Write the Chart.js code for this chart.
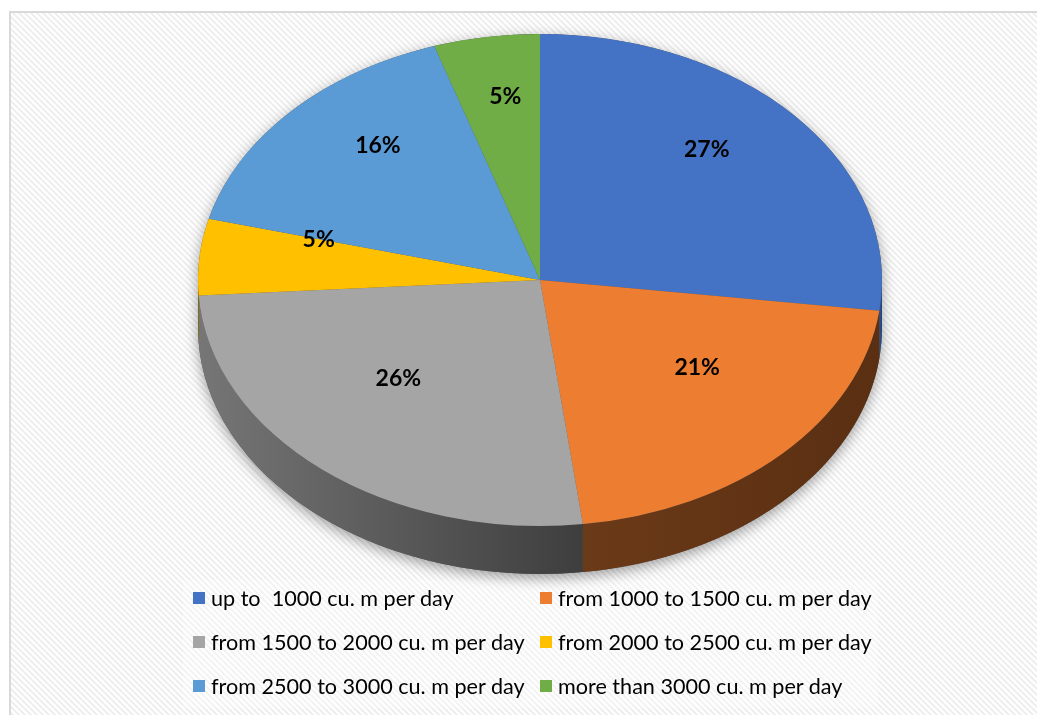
<!DOCTYPE html>
<html>
<head>
<meta charset="utf-8">
<script src="https://cdn.jsdelivr.net/npm/chart.js@4.4.1/dist/chart.umd.min.js"></script>
<style>
    body { margin: 0; background: #fff; }
    #wrap { position: relative; width: 1037px; height: 715px; overflow: hidden; }
    #pieChart { position: absolute; left: 0; top: 0; }
    #legend {
        position: absolute; left: 193px; top: 576px;
        display: grid; grid-template-columns: 347px 340px;
        font-family: Lato, 'Open Sans', sans-serif; font-size: 21.6px; color: #000;
    }
    #legend .item { height: 44px; display: flex; align-items: center; white-space: pre; }
    #legend .box { width: 12px; height: 12px; margin-right: 6px; flex: none; }
</style>
</head>
<body>
<div id="wrap">
    <canvas id="pieChart" width="1037" height="715"></canvas>
    <div id="legend"></div>
</div>
<script>
// data
const categories = [
    'up to  1000 cu. m per day',
    'from 1000 to 1500 cu. m per day',
    'from 1500 to 2000 cu. m per day',
    'from 2000 to 2500 cu. m per day',
    'from 2500 to 3000 cu. m per day',
    'more than 3000 cu. m per day'
];
const shares = [27, 21, 26, 5, 16, 5];

// styles
const topColors = ['#4472C4', '#ED7D31', '#A5A5A5', '#FFC000', '#5B9BD5', '#70AD47'];
const sideLight = ['#2f5597', '#6b3a18', '#767676', '#a67c00', '#3d6f9e', '#4d7a31'];
const sideDark = ['#24427a', '#5a2f12', '#3e3e3e', '#8a6700', '#2f5a82', '#3f6528'];

// geometry of the tilted pie
const CX = 540, CY = 280, RX = 342, RY = 246, DEPTH = 48;

function makeStripes() {
    const p = document.createElement('canvas');
    p.width = 6; p.height = 6;
    const pc = p.getContext('2d');
    pc.fillStyle = '#ffffff';
    pc.fillRect(0, 0, 6, 6);
    pc.strokeStyle = '#eeeeee';
    pc.lineWidth = 2;
    pc.beginPath();
    for (let k = -2; k <= 2; k++) {
        pc.moveTo(k * 6 - 6, -6);
        pc.lineTo(k * 6 + 12, 12);
    }
    pc.stroke();
    return p;
}

const backgroundPlugin = {
    id: 'backgroundPlugin',
    beforeDraw(chart) {
        const ctx = chart.ctx;
        ctx.save();
        ctx.fillStyle = '#ffffff';
        ctx.fillRect(0, 0, chart.width, chart.height);
        ctx.fillStyle = ctx.createPattern(makeStripes(), 'repeat');
        ctx.fillRect(10, 12, chart.width - 10, chart.height - 12);
        // slightly lighter box behind the legend
        ctx.fillStyle = 'rgba(255,255,255,0.3)';
        ctx.fillRect(183, 580, 695, 128);
        ctx.strokeStyle = '#d9d9d9';
        ctx.lineWidth = 2;
        ctx.strokeRect(10, 12, chart.width + 10, chart.height + 10);
        ctx.restore();
    }
};

const pie3dPlugin = {
    id: 'pie3dPlugin',
    beforeDatasetsDraw(chart) {
        const ctx = chart.ctx;
        const arcs = chart.getDatasetMeta(0).data;

        // soft shadow under the whole body
        ctx.save();
        ctx.shadowColor = 'rgba(0,0,0,0.38)';
        ctx.shadowBlur = 14;
        ctx.shadowOffsetY = 4;
        ctx.fillStyle = '#555';
        ctx.beginPath();
        ctx.ellipse(CX, CY, RX, RY, 0, 0, Math.PI * 2);
        ctx.ellipse(CX, CY + DEPTH, RX, RY, 0, 0, Math.PI * 2);
        ctx.rect(CX - RX, CY, RX * 2, DEPTH);
        ctx.fill();
        ctx.restore();

        // front walls
        arcs.forEach((arc, i) => {
            const a = Math.max(arc.startAngle, 0);
            const b = Math.min(arc.endAngle, Math.PI);
            if (a >= b) return;
            const x0 = CX + RX * Math.cos(b), x1 = CX + RX * Math.cos(a);
            const grad = ctx.createLinearGradient(Math.min(x0, x1), 0, Math.max(x0, x1), 0);
            grad.addColorStop(0, sideLight[i]);
            grad.addColorStop(1, sideDark[i]);
            ctx.save();
            ctx.fillStyle = grad;
            ctx.beginPath();
            ctx.moveTo(CX + RX * Math.cos(a), CY + RY * Math.sin(a));
            ctx.ellipse(CX, CY, RX, RY, 0, a, b, false);
            ctx.lineTo(CX + RX * Math.cos(b), CY + DEPTH + RY * Math.sin(b));
            ctx.ellipse(CX, CY + DEPTH, RX, RY, 0, b, a, true);
            ctx.closePath();
            ctx.fill();
            ctx.restore();
        });

        // squash the flat pie into the top face
        const first = arcs[0];
        const r = first.outerRadius;
        ctx.save();
        ctx.translate(CX, CY);
        ctx.scale(RX / r, RY / r);
        ctx.translate(-first.x, -first.y);
    },
    afterDatasetsDraw(chart) {
        const ctx = chart.ctx;
        ctx.restore();

        const arcs = chart.getDatasetMeta(0).data;
        const total = shares.reduce((s, v) => s + v, 0);
        ctx.save();
        ctx.font = 'bold 23px Lato, sans-serif';
        ctx.fillStyle = '#000';
        ctx.textAlign = 'center';
        ctx.textBaseline = 'middle';
        arcs.forEach((arc, i) => {
            const mid = (arc.startAngle + arc.endAngle) / 2;
            const x = CX + RX * 0.65 * Math.cos(mid);
            const y = CY + RY * 0.65 * Math.sin(mid) - 25;
            ctx.fillText(Math.round(shares[i] / total * 100) + '%', x, y);
        });
        ctx.restore();
    }
};

const ctx = document.getElementById('pieChart').getContext('2d');
new Chart(ctx, {
    type: 'pie',
    data: {
        labels: categories,
        datasets: [{
            data: shares,
            backgroundColor: topColors,
            borderWidth: 0,
            clip: false
        }]
    },
    options: {
        responsive: false,
        maintainAspectRatio: false,
        animation: false,
        layout: { padding: 20 },
        plugins: {
            legend: { display: false },
            tooltip: { enabled: false }
        }
    },
    plugins: [backgroundPlugin, pie3dPlugin]
});

// legend
const legend = document.getElementById('legend');
categories.forEach((name, i) => {
    const item = document.createElement('div');
    item.className = 'item';
    const box = document.createElement('span');
    box.className = 'box';
    box.style.background = topColors[i];
    const text = document.createElement('span');
    text.textContent = name;
    item.appendChild(box);
    item.appendChild(text);
    legend.appendChild(item);
});
</script>
</body>
</html>
